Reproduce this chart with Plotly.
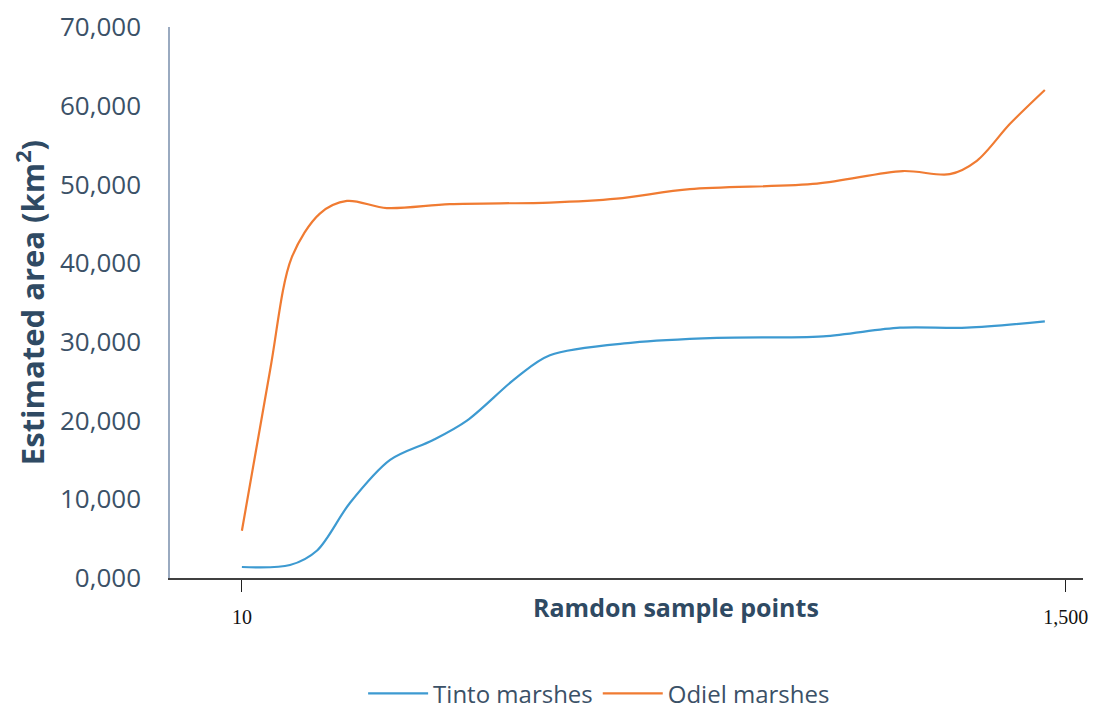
import plotly.graph_objects as go

# Data
tinto_x = [10, 97, 146, 205, 278, 355, 417, 507, 567, 717, 869, 1061, 1200, 1321, 1462]
tinto_y = [1400, 1650, 3500, 9500, 15000, 17500, 20000, 25500, 28300, 29900, 30500, 30700, 31800, 31800, 32600]

odiel_x = [10, 61, 100, 151, 200, 272, 386, 567, 688, 820, 1050, 1205, 1290, 1339, 1399, 1462]
odiel_y = [6000, 26400, 40700, 46300, 47900, 47000, 47500, 47700, 48200, 49400, 50100, 51700, 51300, 53000, 57700, 62000]

x_ticks = [10, 1500]
x_tick_labels = ["10", "1,500"]
y_ticks = [0, 10000, 20000, 30000, 40000, 50000, 60000, 70000]
y_tick_labels = ["0,000", "10,000", "20,000", "30,000", "40,000", "50,000", "60,000", "70,000"]

text_col = "#3B5167"
title_col = "#2F4A63"

fig = go.Figure()
fig.add_trace(go.Scatter(
    x=tinto_x, y=tinto_y, mode="lines", name="Tinto marshes",
    line=dict(color="#3D9AD1", width=2.2, shape="spline", smoothing=0.9),
))
fig.add_trace(go.Scatter(
    x=odiel_x, y=odiel_y, mode="lines", name="Odiel marshes",
    line=dict(color="#F07B32", width=2.2, shape="spline", smoothing=0.9),
))

# page has an 8px body margin, so the figure is 8px smaller and margins compensate
fig.update_layout(
    width=1092, height=703,
    margin=dict(l=162, r=17, t=19, b=133, autoexpand=False),
    paper_bgcolor="white", plot_bgcolor="white",
    font=dict(family="Open Sans", color=text_col),
    showlegend=True,
    legend=dict(
        orientation="h", x=0.47, xanchor="center", y=-0.21, yanchor="middle",
        font=dict(family="Open Sans", size=24, color=text_col),
        itemwidth=60, tracegroupgap=0,
    ),
    xaxis=dict(
        range=[-120, 1531], showgrid=False, zeroline=False, automargin=False,
        showline=True, linecolor="#404040", linewidth=1.5,
        tickmode="array", tickvals=x_ticks, ticktext=x_tick_labels,
        ticks="outside", ticklen=12, tickcolor="#202020", tickwidth=1,
        tickfont=dict(family="Liberation Serif", size=20, color="#111111"),
        ticklabelstandoff=8, ticklabeloverflow="allow",
    ),
    yaxis=dict(
        range=[0, 70000], showgrid=False, zeroline=False, automargin=False,
        showline=True, linecolor="#9AAAC0", linewidth=1.5,
        tickmode="array", tickvals=y_ticks, ticktext=y_tick_labels,
        ticks="", tickfont=dict(family="Open Sans", size=26, color=text_col),
        ticklabelstandoff=22, ticklabeloverflow="allow",
        title=dict(text="<b>Estimated area (km<sup>2</sup>)</b>",
                   font=dict(family="Open Sans", size=31, color=title_col),
                   standoff=20),
    ),
)

fig.add_annotation(
    text="<b>Ramdon sample points</b>", xref="paper", yref="paper",
    x=(676 - 170) / 913, y=(578 - 607) / 551, xanchor="center", yanchor="middle",
    showarrow=False, font=dict(family="Open Sans", size=25, color=title_col),
)

fig.write_html("out.html")
